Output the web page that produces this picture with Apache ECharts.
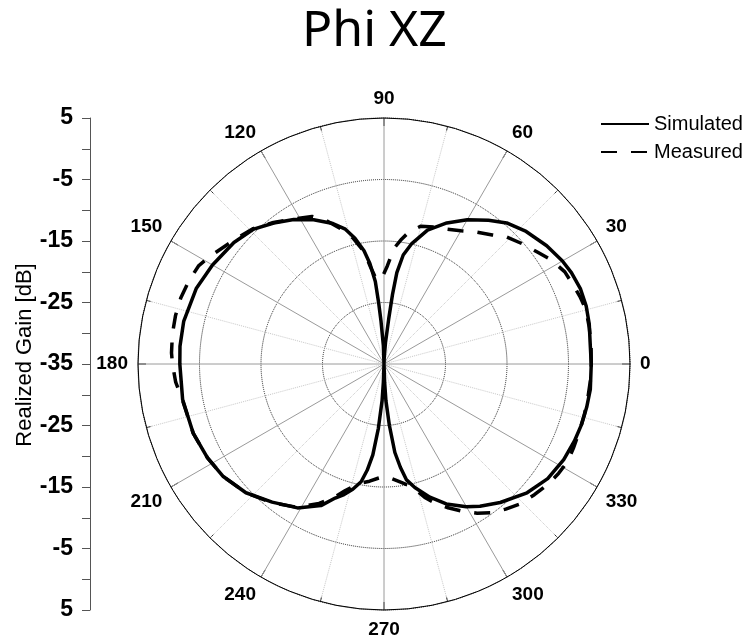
<!DOCTYPE html>
<html>
<head>
<meta charset="utf-8">
<script src="https://cdn.jsdelivr.net/npm/echarts@6/dist/echarts.min.js"></script>
<style>
  html, body { margin: 0; padding: 0; background: #fff; }
  #chart { width: 749px; height: 644px; }
</style>
</head>
<body>
<div id="chart"></div>
<script>
// angles in degrees, gain in dB
const simAngles = [0, 6, 11, 16, 21, 26, 30, 36, 43, 49, 54, 60, 66, 72, 77, 80, 82, 83, 84, 86, 88, 90,
  92, 94, 95, 96, 98, 100, 103, 106, 110, 116, 122, 128, 134, 141, 150, 158, 168, 175, 180,
  190, 200, 208, 215, 223, 231, 239, 246, 250, 253, 256, 259, 261, 263, 265, 267, 268, 270,
  272, 273, 275, 277, 279, 281, 284, 289, 294, 300, 304, 310, 318, 325, 332, 338, 343, 348, 353, 360]
const simGain = [-1.3, -1.3, -1.0, -0.8, -0.8, -1.1, -1.5, -2.3, -3.4, -4.6, -6.1, -7.9, -9.9, -12.1, -14.9, -17.0, -20.0, -23.5, -27.5, -31.5, -34.0, -35.0,
  -32.0, -28.0, -25.0, -21.5, -18.5, -16.3, -14.0, -12.2, -10.7, -8.9, -7.3, -5.9, -4.5, -3.6, -2.8, -2.1, -1.7, -1.7, -1.8,
  -1.75, -2.0, -2.5, -3.1, -4.3, -6.1, -7.7, -9.8, -11.8, -12.8, -14.0, -15.5, -17.5, -20.1, -24.5, -29.0, -32.0, -35.0,
  -32.0, -29.0, -25.0, -20.5, -18.0, -15.8, -14.3, -12.1, -10.1, -8.2, -7.1, -5.6, -3.7, -2.5, -1.9, -1.6, -1.4, -1.3, -1.2, -1.3]

const measAngles = [0, 5, 10, 15, 19, 23, 27, 32, 36, 41, 46, 50, 55, 60, 65, 70, 75, 79, 82, 85, 88, 91,
  95, 98, 100, 104, 108, 112, 116, 122, 128, 134, 139, 143, 148, 152, 157, 162, 167, 172, 177, 180,
  185, 190, 200, 208, 215, 223, 231, 239, 245, 249, 253, 258, 263, 267, 270,
  274, 278, 283, 287, 290, 294, 298, 302, 306, 310, 314, 319, 324, 328, 332, 336, 341, 346, 351, 356, 360]
const measGain = [-1.3, -1.2, -1.1, -1.0, -1.3, -1.7, -2.0, -3.0, -4.1, -5.2, -6.3, -7.6, -8.8, -10.0, -10.8, -11.3, -11.8, -13.0, -14.5, -16.1, -19.0, -20.8,
  -21.3, -19.0, -16.5, -13.8, -11.8, -9.8, -8.3, -7.2, -5.8, -4.4, -3.6, -2.9, -1.8, -0.9, -0.5, -0.25, -0.2, -0.25, -0.4, -0.6,
  -1.0, -1.7, -2.0, -2.5, -3.1, -4.3, -6.0, -7.8, -10.0, -11.6, -13.5, -15.1, -15.8, -16.4, -16.7,
  -16.3, -15.6, -14.5, -12.3, -11.0, -9.4, -7.9, -6.4, -5.1, -4.2, -3.3, -2.6, -1.9, -1.5, -1.2, -1.3, -1.4, -1.4, -1.4, -1.3, -1.3]

const angleTicks = [0, 30, 60, 90, 120, 150, 180, 210, 240, 270, 300, 330]

const chart = echarts.init(document.getElementById('chart'))

chart.setOption({
  backgroundColor: '#fff',
  animation: false,
  title: {
    text: 'Phi XZ',
    left: 'center',
    top: 2,
    textStyle: { fontFamily: 'Noto Sans', fontWeight: 'normal', fontSize: 50, color: '#000' }
  },
  legend: {
    orient: 'vertical',
    left: 595,
    top: 109,
    itemWidth: 48,
    itemHeight: 12,
    itemGap: 8,
    itemStyle: { opacity: 0 },
    textStyle: { fontFamily: 'Liberation Sans', fontSize: 20, color: '#000' },
    data: ['Simulated', 'Measured']
  },
  graphic: [{
    type: 'text',
    x: 25,
    y: 355,
    rotation: Math.PI / 2,
    style: {
      text: 'Realized Gain [dB]',
      fontFamily: 'Liberation Sans',
      fontSize: 22,
      fill: '#000',
      textAlign: 'center',
      textVerticalAlign: 'middle'
    }
  }],
  // the left scale: 5 at the rim, -35 at the centre, 5 again at the bottom
  grid: { left: 90, top: 118, width: 1, height: 492 },
  xAxis: { type: 'value', show: false },
  yAxis: {
    type: 'value',
    min: -40,
    max: 40,
    interval: 10,
    axisLine: { show: true, lineStyle: { color: '#555', width: 1 } },
    axisTick: { show: true, length: 8, lineStyle: { color: '#555' } },
    minorTick: { show: true, splitNumber: 2, length: 8, lineStyle: { color: '#555' } },
    splitLine: { show: false },
    axisLabel: {
      margin: 17,
      formatter: v => String(Math.abs(v) - 35),
      fontFamily: 'Liberation Sans',
      fontWeight: 'bold',
      fontSize: 23,
      color: '#000'
    }
  },
  polar: { center: [384, 364], radius: 246 },
  angleAxis: {
    type: 'value',
    min: 0,
    max: 360,
    interval: 30,
    startAngle: 0,
    clockwise: false,
    axisLine: { lineStyle: { color: '#000', width: 1 } },
    axisTick: { show: true, inside: true, length: 8, lineStyle: { color: '#000' } },
    minorTick: { show: true, splitNumber: 2, length: 5, lineStyle: { color: '#000' } },
    axisLabel: {
      margin: 10,
      formatter: v => (angleTicks.indexOf(v) >= 0 ? String(v) : ''),
      fontFamily: 'Liberation Sans',
      fontWeight: 'bold',
      fontSize: 19,
      color: '#000'
    },
    splitLine: { show: true, lineStyle: { color: '#9a9a9a', width: 1 } },
    minorSplitLine: { show: true, lineStyle: { color: '#c8c8c8', width: 1, type: 'dotted' } }
  },
  radiusAxis: {
    type: 'value',
    min: -35,
    max: 5,
    interval: 10,
    axisLine: { show: false },
    axisTick: { show: false },
    axisLabel: { show: false },
    splitLine: { show: true, lineStyle: { color: '#222', width: 1, type: 'dotted' } }
  },
  series: [
    {
      name: 'Simulated',
      type: 'line',
      coordinateSystem: 'polar',
      showSymbol: false,
      symbol: 'none',
      lineStyle: { color: '#000', width: 3.5 },
      itemStyle: { color: '#000' },
      data: simAngles.map((a, i) => [simGain[i], a])
    },
    {
      name: 'Measured',
      type: 'line',
      coordinateSystem: 'polar',
      showSymbol: false,
      symbol: 'none',
      lineStyle: { color: '#000', width: 3.5, type: [16, 14] },
      itemStyle: { color: '#000' },
      data: measAngles.map((a, i) => [measGain[i], a])
    }
  ]
})
</script>
</body>
</html>
